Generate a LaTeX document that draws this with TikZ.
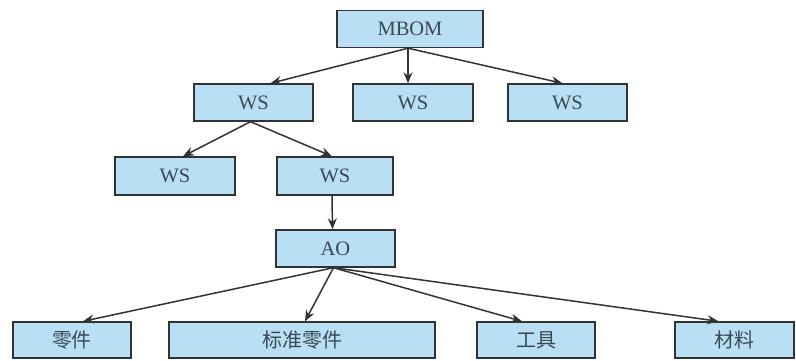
\documentclass[tikz,border=0pt]{standalone}
\usepackage{fontspec}
\setmainfont{Liberation Serif}
\newfontfamily\cjk{Noto Sans CJK SC}
\usetikzlibrary{arrows.meta}
\definecolor{boxfill}{HTML}{B8DFF3}
\definecolor{edge}{HTML}{333333}
\definecolor{txt}{HTML}{3A4A55}
\tikzset{
  box/.style={draw=edge, line width=1.4pt, fill=boxfill, minimum height=37pt, inner sep=0pt, font=\fontsize{20.5}{20.5}\selectfont, text=txt},
  cbox/.style={box, font=\cjk\fontsize{20}{20}\selectfont},
  conn/.style={draw=edge, line width=1.5pt, -{Stealth[length=11pt,width=9pt]}}
}
\begin{document}
\begin{tikzpicture}[x=1pt,y=-1pt]
\useasboundingbox (0,0) rectangle (796,361);
\node[box, minimum width=146pt] (mbom) at (410,29) {MBOM};
\node[box, minimum width=119pt] (ws1) at (253.5,102.5) {WS};
\node[box, minimum width=120pt] (ws2) at (413,102.5) {WS};
\node[box, minimum width=119pt] (ws3) at (567.5,102.5) {WS};
\node[box, minimum width=120pt, minimum height=38pt] (ws4) at (175,176) {WS};
\node[box, minimum width=116pt, minimum height=38pt] (ws5) at (335,176) {WS};
\node[box, minimum width=119pt] (ao) at (335.5,248.5) {AO};
\node[cbox, minimum width=118pt, minimum height=36pt] (p1) at (72,340) {零件};
\node[cbox, minimum width=266pt, minimum height=36pt] (p2) at (302,340) {标准零件};
\node[cbox, minimum width=118pt, minimum height=36pt] (p3) at (536,340) {工具};
\node[cbox, minimum width=119pt, minimum height=36pt] (p4) at (734.5,340) {材料};
\draw[conn] ([xshift=-2pt]mbom.south) -- ([xshift=17pt]ws1.north);
\draw[conn] ([xshift=-2pt]mbom.south) -- ([xshift=-5pt]ws2.north);
\draw[conn] ([xshift=-2pt]mbom.south) -- ([xshift=-5pt]ws3.north);
\draw[conn] ([xshift=-3pt]ws1.south) -- ([xshift=8pt]ws4.north);
\draw[conn] ([xshift=-3pt]ws1.south) -- ([xshift=-3pt]ws5.north);
\draw[conn] ([xshift=-3pt]ws5.south) -- ([xshift=-3pt]ao.north);
\draw[conn] ([xshift=-2pt]ao.south) -- ([xshift=11pt]p1.north);
\draw[conn] ([xshift=-2pt]ao.south) -- ([xshift=3pt]p2.north);
\draw[conn] ([xshift=-2pt]ao.south) -- ([xshift=-14pt]p3.north);
\draw[conn] ([xshift=-2pt]ao.south) -- ([xshift=-16pt]p4.north);
\end{tikzpicture}
\end{document}
